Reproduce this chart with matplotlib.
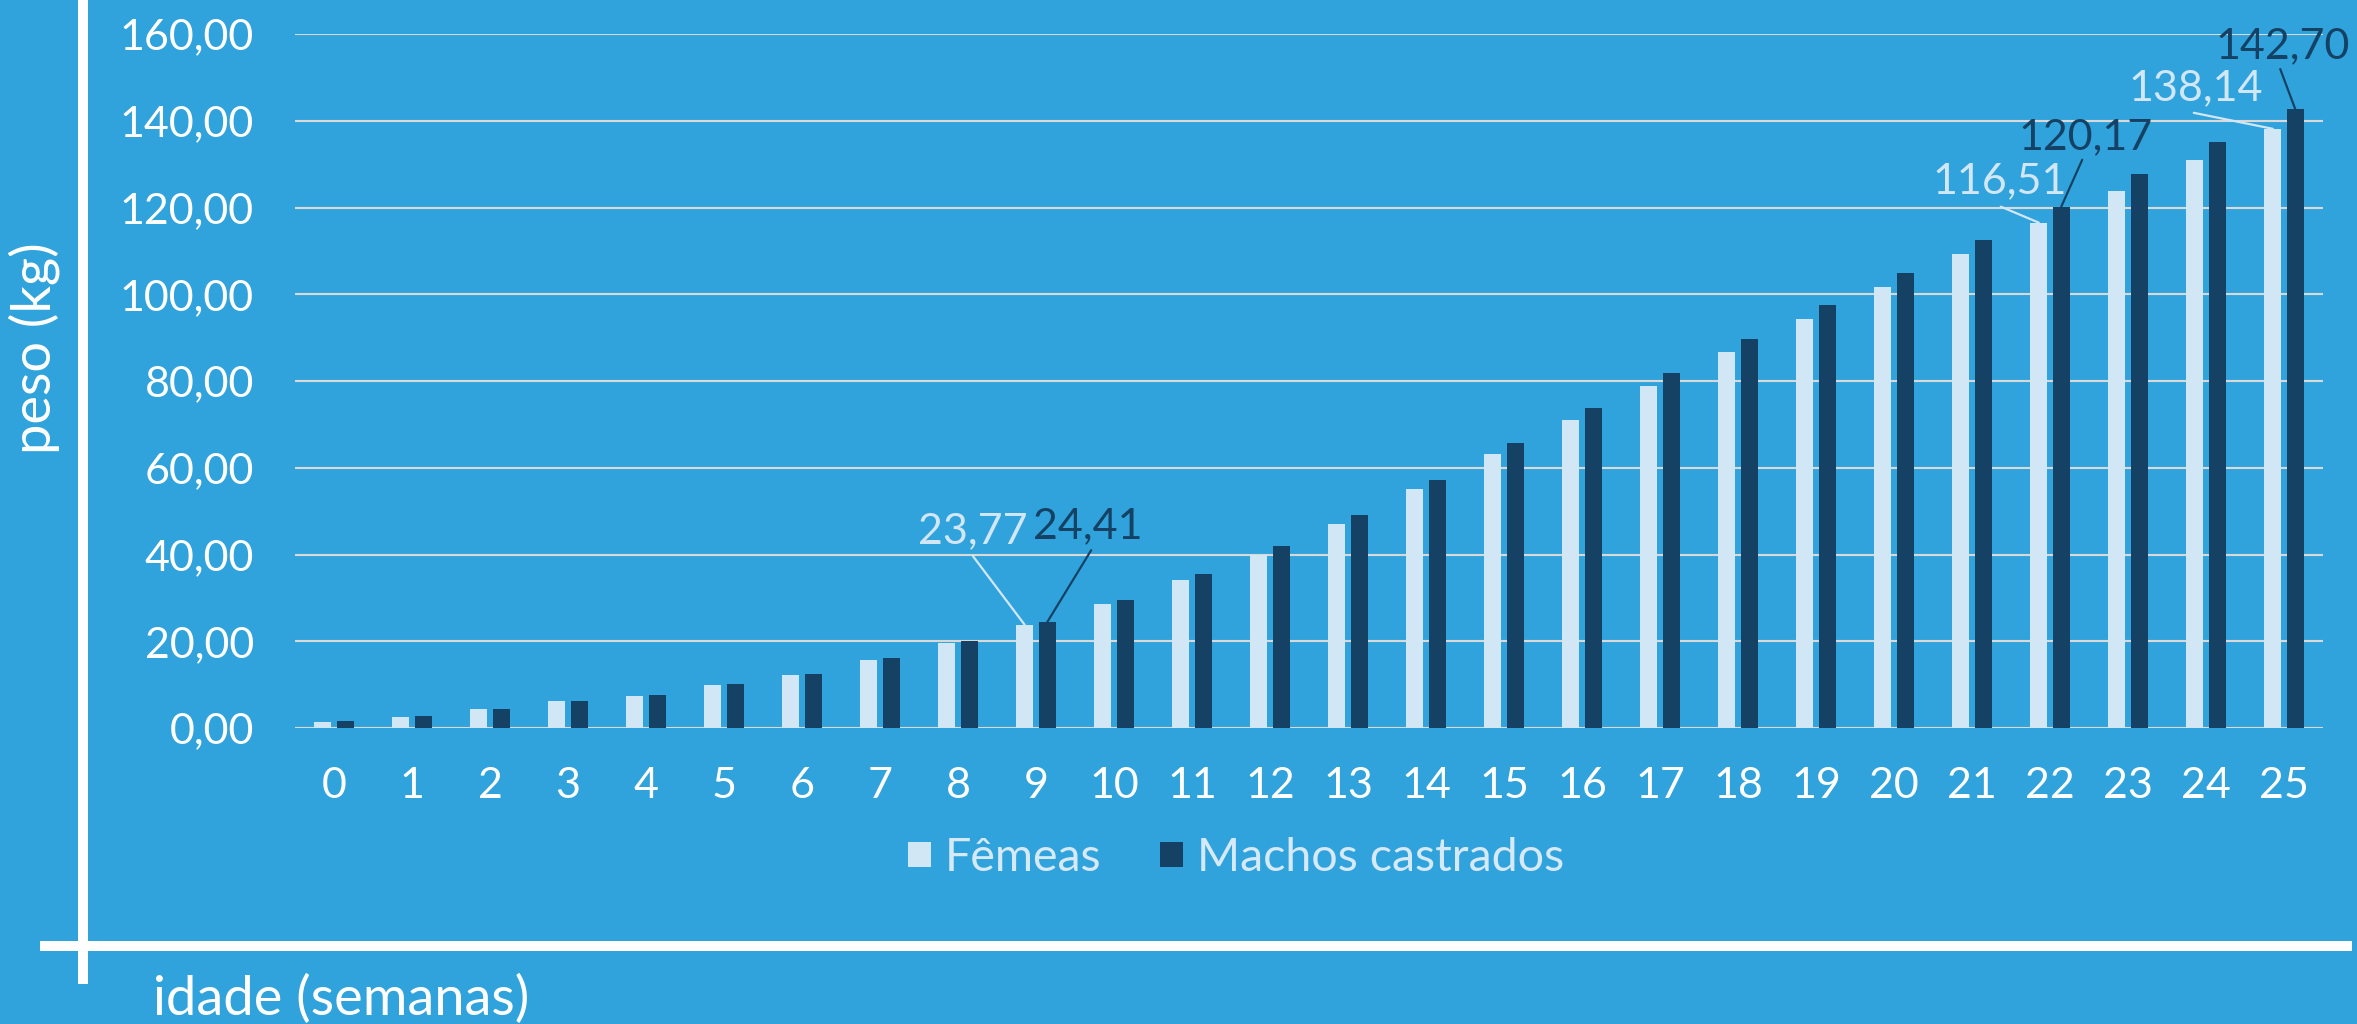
import matplotlib
matplotlib.use("Agg")
import matplotlib.pyplot as plt
from matplotlib.ticker import FuncFormatter, MultipleLocator
from matplotlib.lines import Line2D
import numpy as np

# ---- data ----
weeks = list(range(26))
femeas = [1.45, 2.65, 4.3, 6.15, 7.4, 9.9, 12.15, 15.6, 19.5, 23.77,
          28.55, 34.05, 39.9, 47.1, 55.0, 63.2, 71.0, 78.9, 86.7, 94.2,
          101.7, 109.2, 116.51, 123.8, 130.9, 138.14]
machos = [1.5, 2.7, 4.4, 6.2, 7.55, 10.1, 12.4, 16.1, 20.1, 24.41,
          29.5, 35.5, 41.9, 49.2, 57.25, 65.65, 73.7, 81.85, 89.7, 97.5,
          105.0, 112.6, 120.17, 127.7, 135.1, 142.70]
series_names = ["Fêmeas", "Machos castrados"]
labelled_weeks = [9, 22, 25]
ylabel_text = "peso (kg)"
xlabel_text = "idade (semanas)"

# ---- style ----
BG = "#31A3DC"
LIGHT = "#D2E7F6"
DARK = "#154264"
GRID = "#D9D9D9"
LEGTXT = "#D6E9F7"
plt.rcParams['font.family'] = ['Lato', 'DejaVu Sans']

W, H = 2357, 1024
fig = plt.figure(figsize=(W / 100, H / 100), dpi=100, facecolor=BG)
ax = fig.add_axes([295 / W, 1 - 728 / H, (2323 - 295) / W, (728 - 34) / H])
ax.set_facecolor(BG)

x = np.arange(len(weeks))
bw = 0.218
off = 0.144
b1 = ax.bar(x - off, femeas, width=bw, color=LIGHT, zorder=3, label=series_names[0])
b2 = ax.bar(x + off, machos, width=bw, color=DARK, zorder=3, label=series_names[1])

ax.set_xlim(-0.5, len(weeks) - 0.5)
ax.set_ylim(0, 160)
ax.yaxis.set_major_locator(MultipleLocator(20))
ax.yaxis.set_major_formatter(FuncFormatter(lambda v, p: f"{v:.2f}".replace(".", ",")))
ax.set_xticks(x)
ax.set_xticklabels([str(w) for w in weeks])
ax.grid(axis='y', color=GRID, linewidth=1.5, zorder=0)
ax.set_axisbelow(True)
for s in ax.spines.values():
    s.set_visible(False)
ax.tick_params(axis='both', length=0, colors='white', labelsize=31)
ax.tick_params(axis='x', pad=28)
ax.tick_params(axis='y', pad=29.5)

# ---- data labels (offsets in pixels: text centre, leader start) ----
px = 0.72
label_layout = {
    (9, 0): ((-52, 98), (-52, 69)),
    (9, 1): ((41, 100), (44, 72)),
    (22, 0): ((-39, 45), (-38, 16)),
    (22, 1): ((24, 74), (21, 47)),
    (25, 0): ((-77, 45), (-79, 16)),
    (25, 1): ((-13, 67), (-15, 40)),
}
for wk in labelled_weeks:
    for si, (vals, col, dx) in enumerate([(femeas, LIGHT, -off), (machos, DARK, off)]):
        v = vals[wk]
        (tx, ty), (lx, ly) = label_layout[(wk, si)]
        ax.annotate(f"{v:.2f}".replace(".", ","), xy=(wk + dx, v),
                    xytext=(tx * px, (ty - 16) * px), textcoords='offset points',
                    ha='center', va='baseline', fontsize=31, color=col, zorder=5)
        ax.annotate("", xy=(wk + dx, v), xytext=(lx * px, ly * px),
                    textcoords='offset points', zorder=5,
                    arrowprops=dict(arrowstyle='-', color=col, lw=1.6,
                                    shrinkA=0, shrinkB=0))

# ---- legend ----
leg = fig.legend(handles=[b1, b2], labels=series_names, loc='center',
                 bbox_to_anchor=(1236 / W, 1 - 858 / H), ncol=2, frameon=False,
                 fontsize=33.5, handlelength=0.5, handleheight=0.48,
                 handletextpad=0.3, columnspacing=1.25, borderpad=0, borderaxespad=0)
for t in leg.get_texts():
    t.set_color(LEGTXT)

# ---- axis titles ----
fig.text(34 / W, 1 - 348 / H, ylabel_text, rotation=90, ha='center', va='center',
         fontsize=39, color='white')
fig.text(153 / W, 1 - 1015 / H, xlabel_text, ha='left', va='baseline',
         fontsize=39, color='white')

# ---- decorative white lines ----
fig.add_artist(Line2D([83 / W, 83 / W], [1, 1 - 984 / H], color='white',
                      linewidth=7.2, solid_capstyle='butt', transform=fig.transFigure))
fig.add_artist(Line2D([40 / W, 2352 / W], [1 - 946 / H, 1 - 946 / H], color='white',
                      linewidth=7.2, solid_capstyle='butt', transform=fig.transFigure))

fig.savefig("out.png", dpi=100, facecolor=BG)
